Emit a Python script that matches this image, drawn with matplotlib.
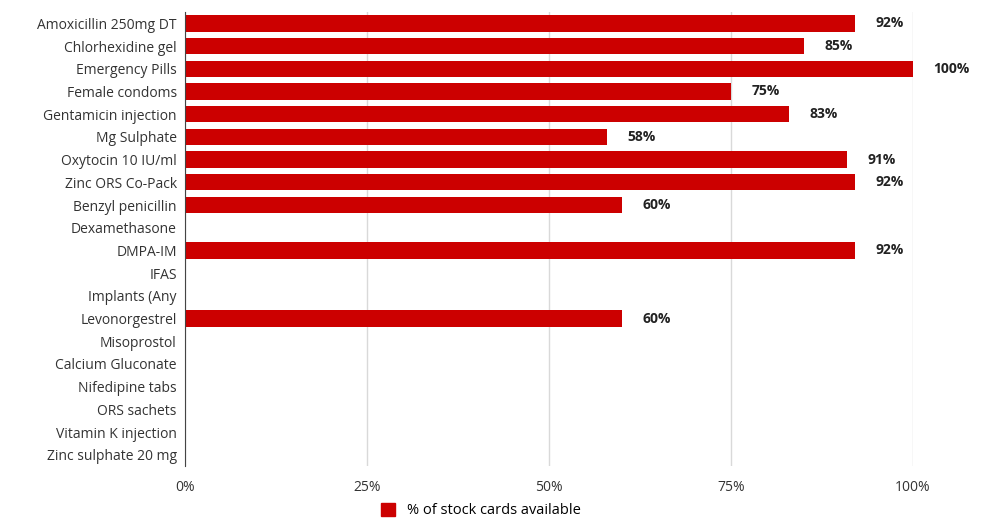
import matplotlib.pyplot as plt
from matplotlib.patches import Patch

plt.rcParams['font.family'] = ['Open Sans', 'DejaVu Sans']

items = [
    "Amoxicillin 250mg DT", "Chlorhexidine gel", "Emergency Pills", "Female condoms",
    "Gentamicin injection", "Mg Sulphate", "Oxytocin 10 IU/ml", "Zinc ORS Co-Pack",
    "Benzyl penicillin", "Dexamethasone", "DMPA-IM", "IFAS", "Implants (Any",
    "Levonorgestrel", "Misoprostol", "Calcium Gluconate", "Nifedipine tabs",
    "ORS sachets", "Vitamin K injection", "Zinc sulphate 20 mg",
]
pct_available = [92, 85, 100, 75, 83, 58, 91, 92, 60, 0, 92, 0, 0, 60, 0, 0, 0, 0, 0, 0]
x_ticks = [0, 25, 50, 75, 100]
x_tick_labels = ["0%", "25%", "50%", "75%", "100%"]

bar_color = "#cc0000"

fig = plt.figure(figsize=(9.81, 5.22), dpi=100)
ax = fig.add_axes([0.1886, 0.107, 0.742, 0.87])

ypos = list(range(len(items)))
ax.barh(ypos, pct_available, height=0.72, color=bar_color, zorder=3)

# value labels, only for items with stock cards
for y, v in zip(ypos, pct_available):
    if v > 0:
        ax.text(v + 2.8, y, f"{v}%", va="center", ha="left", fontsize=10,
                fontweight="bold", color="#222222")

ax.set_yticks(ypos)
ax.set_yticklabels(items, fontsize=10, color="#333333")
ax.set_ylim(len(items) - 0.5, -0.5)
ax.set_xlim(0, 100)
ax.set_xticks(x_ticks)
ax.set_xticklabels(x_tick_labels, fontsize=10, color="#333333")
ax.tick_params(axis="both", length=0)
ax.tick_params(axis="x", pad=10)
ax.tick_params(axis="y", pad=6)

ax.grid(axis="x", color="#d9d9d9", linewidth=1, zorder=0)
for s in ["top", "right", "bottom"]:
    ax.spines[s].set_visible(False)
ax.spines["left"].set_color("#444444")
ax.spines["left"].set_zorder(4)

fig.legend(handles=[Patch(color=bar_color, label="% of stock cards available")],
           loc="center", bbox_to_anchor=(0.49, 0.022), frameon=False, fontsize=10.5,
           handlelength=1.0, handleheight=1.0)

fig.savefig("out.png", dpi=100)
